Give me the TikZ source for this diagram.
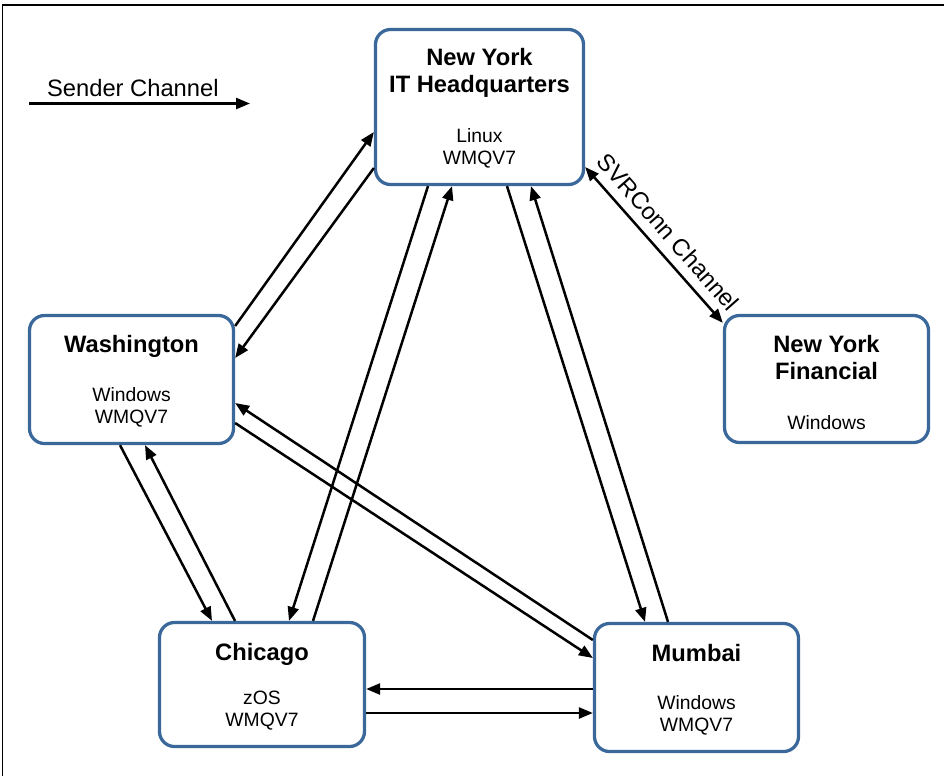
\documentclass[tikz,border=0pt]{standalone}
\usepackage{fontspec}
\setmainfont{Liberation Sans}
\usetikzlibrary{positioning,arrows.meta}
\definecolor{boxblue}{RGB}{58,104,155}

\begin{document}
\begin{tikzpicture}[>={Triangle[length=0.28cm,width=0.22cm]},
    box/.style={draw=boxblue,line width=0.065cm,rounded corners=0.3cm,fill=white},
    ttl/.style={inner sep=0,align=center,font=\fontsize{13.5}{15.3}\selectfont\bfseries},
    sub/.style={inner sep=0,align=center,font=\fontsize{11}{12.5}\selectfont},
    link/.style={line width=0.05cm}]
  \useasboundingbox (0,0) rectangle (18.88,-15.52);
  \draw[line width=0.04cm] (0.05,-15.52) -- (0.05,-0.09) -- (18.88,-0.09);

  \node[box,minimum width=4.16cm,minimum height=3.1cm] (ny) at (9.59,-2.14) {};
  \node[ttl,below=0.4cm of ny.north] (nyT) {New York\\IT Headquarters};
  \node[sub,above=0.35cm of ny.south] (nyB) {Linux\\WMQV7};

  \node[box,minimum width=4.08cm,minimum height=2.56cm] (wash) at (2.63,-7.59) {};
  \node[ttl,below=0.42cm of wash.north] (washT) {Washington};
  \node[sub,above=0.35cm of wash.south] (washB) {Windows\\WMQV7};

  \node[box,minimum width=4.08cm,minimum height=2.54cm] (fin) at (16.53,-7.58) {};
  \node[ttl,below=0.42cm of fin.north] (finT) {New York\\Financial};
  \node[sub,above=0.28cm of fin.south] (finB) {Windows};

  \node[box,minimum width=4.1cm,minimum height=2.48cm] (chi) at (5.24,-13.69) {};
  \node[ttl,below=0.44cm of chi.north] (chiT) {Chicago};
  \node[sub,above=0.35cm of chi.south] (chiB) {zOS\\WMQV7};

  \node[box,minimum width=4.08cm,minimum height=2.56cm] (mum) at (13.93,-13.75) {};
  \node[ttl,below=0.44cm of mum.north] (mumT) {Mumbai};
  \node[sub,above=0.35cm of mum.south] (mumB) {Windows\\WMQV7};

  \coordinate (l1) at (0.58,-2.07);
  \coordinate (l2) at (5.0,-2.07);
  \draw[->,link] (l1) -- node[above,pos=0.47,font=\fontsize{13.5}{15}\selectfont] (legT) {Sender Channel} (l2);

  \draw[->,link] ([yshift=1.07cm]wash.east) -- ([yshift=-0.5cm]ny.west);
  \draw[->,link] ([yshift=-1.22cm]ny.west) -- ([yshift=0.43cm]wash.east);
  \draw[->,link] ([xshift=-1.03cm]ny.south) -- ([xshift=0.54cm]chi.north);
  \draw[->,link] ([xshift=1.02cm]chi.north) -- ([xshift=-0.55cm]ny.south);
  \draw[->,link] ([xshift=0.55cm]ny.south) -- ([xshift=-1.03cm]mum.north);
  \draw[->,link] ([xshift=-0.57cm]mum.north) -- ([xshift=1.03cm]ny.south);
  \draw[->,link] ([xshift=-0.23cm]wash.south) -- ([xshift=-1.0cm]chi.north);
  \draw[->,link] ([xshift=-0.54cm]chi.north) -- ([xshift=0.27cm]wash.south);
  \draw[->,link] ([yshift=0.95cm]mum.west) -- ([yshift=-0.47cm]wash.east);
  \draw[->,link] ([yshift=-0.87cm]wash.east) -- ([yshift=0.59cm]mum.west);

  \coordinate (m1) at ([yshift=-0.03cm]mum.west);
  \coordinate (m2) at ([yshift=-0.51cm]mum.west);
  \draw[->,link] (m1) -- (m1 -| chi.east);
  \draw[->,link] (m2 -| chi.east) -- (m2);

  \draw[<->,link] ([yshift=-1.2cm]ny.east) -- node[above=2pt,sloped,font=\fontsize{13.5}{15}\selectfont] (svr) {SVRConn Channel} ([yshift=-0.18cm]fin.north west);
\end{tikzpicture}
\end{document}
